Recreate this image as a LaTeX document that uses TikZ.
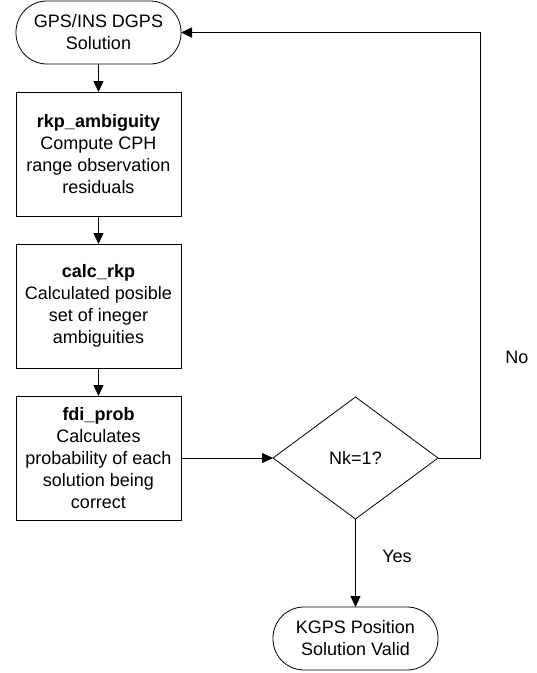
\documentclass[tikz,border=0pt]{standalone}
\usepackage{fontspec}
\setmainfont{Liberation Sans}
\usetikzlibrary{positioning,shapes.geometric,arrows.meta}

\begin{document}
\begin{tikzpicture}[x=1pt, y=-1pt, line width=0.8pt, >={Triangle[length=11pt,width=10pt]},
    font=\fontsize{18}{22}\selectfont,
    term/.style = {draw, rectangle, rounded corners=31pt, minimum width=165pt, minimum height=63pt, align=center, inner sep=2pt, outer sep=0pt},
    proc/.style = {draw, rectangle, minimum width=165pt, minimum height=124pt, align=center, inner sep=2pt, outer sep=0pt},
    decide/.style = {draw, diamond, minimum width=165pt, minimum height=122pt, inner sep=0pt, outer sep=0pt},
    lbl/.style = {inner sep=0pt}]
    \useasboundingbox (0,0) rectangle (537,673);
    \node[term] (start) at (98.5,32.5) {GPS/INS DGPS\\Solution};
    \node[proc] (ambig) [below=28pt of start] {\textbf{rkp\_ambiguity}\\Compute CPH\\range observation\\residuals};
    \node[proc] (calc) [below=28pt of ambig] {\textbf{calc\_rkp}\\Calculated posible\\set of ineger\\ambiguities};
    \node[proc] (fdi) [below=28pt of calc] {\textbf{fdi\_prob}\\Calculates\\probability of each\\solution being\\correct};
    \node[decide] (nk) [right=92pt of fdi] {Nk=1?};
    \node[term] (valid) [below=88pt of nk] {KGPS Position\\Solution Valid};
    \coordinate (corner) at (480,458);
    \node[lbl] (no) at (517,357) {No};
    \node[lbl] (yes) at (397,556) {Yes};
    \draw[->] (start) -- (ambig);
    \draw[->] (ambig) -- (calc);
    \draw[->] (calc) -- (fdi);
    \draw[->] (fdi) -- (nk);
    \draw[->] (nk) -- (valid);
    \draw[->] (nk.east) -- (corner) |- (start.east);
\end{tikzpicture}
\end{document}
